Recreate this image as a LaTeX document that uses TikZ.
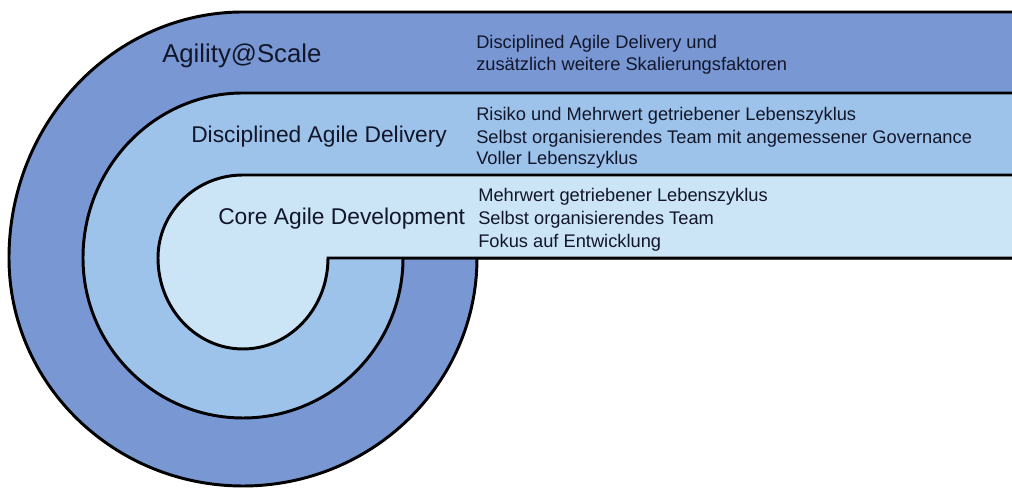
\documentclass[tikz,border=0pt]{standalone}
\usepackage{fontspec}
\setmainfont{Liberation Sans}

\definecolor{layer1}{RGB}{121,151,211}
\definecolor{layer2}{RGB}{158,195,235}
\definecolor{layer3}{RGB}{203,229,247}
\definecolor{ink}{RGB}{18,22,42}

\begin{document}
\begin{tikzpicture}[
  band/.style={draw=black, line width=2.1pt},
  title/.style={anchor=base west, inner sep=0pt, text=ink, font=\fontsize{16.2}{19}\selectfont},
  info/.style={anchor=base west, inner sep=0pt, text=ink, font=\fontsize{13}{16}\selectfont}]
  \useasboundingbox (0,0) rectangle (25.3,12.25);
  \clip (0,0) rectangle (25.3,12.25);
  % outer band
  \filldraw[band, fill=layer1] (26,11.95) -- (6.075,11.95)
    arc[start angle=90, end angle=180, x radius=5.85cm, y radius=6.15cm]
    arc[start angle=180, end angle=360, x radius=5.85cm, y radius=5.7cm]
    -- (26,5.8) -- cycle;
  % middle band
  \filldraw[band, fill=layer2] (26,9.925) -- (6.075,9.925)
    arc[start angle=90, end angle=180, x radius=4cm, y radius=4.125cm]
    arc[start angle=180, end angle=360, x radius=4cm, y radius=4cm]
    -- (26,5.8) -- cycle;
  % inner band
  \filldraw[band, fill=layer3] (26,7.875) -- (6.075,7.875)
    arc[start angle=90, end angle=180, x radius=2.125cm, y radius=2.075cm]
    arc[start angle=180, end angle=360, x radius=2.125cm, y radius=2.275cm]
    -- (26,5.8) -- cycle;
  % titles
  \node[title, font=\fontsize{18.3}{22}\selectfont] (scale) at(4.05,10.675){Agility@Scale};
  \node[title] (dad) at(4.775,8.675){Disciplined Agile Delivery};
  \node[title] (cad) at(5.45,6.625){Core Agile Development};
  % Agility@Scale
  \node[info] (a1) at(11.9,11.03){Disciplined Agile Delivery und};
  \node[info] (a2) at(11.9,10.475){zusätzlich weitere Skalierungsfaktoren};
  % Disciplined Agile Delivery
  \node[info] (d1) at(11.9,9.23){Risiko und Mehrwert getriebener Lebenszyklus};
  \node[info] (d2) at(11.9,8.67){Selbst organisierendes Team mit angemessener Governance};
  \node[info] (d3) at(11.9,8.125){Voller Lebenszyklus};
  % Core Agile Development
  \node[info] (c1) at(11.95,7.2){Mehrwert getriebener Lebenszyklus};
  \node[info] (c2) at(11.95,6.625){Selbst organisierendes Team};
  \node[info] (c3) at(11.95,6.05){Fokus auf Entwicklung};
\end{tikzpicture}
\end{document}
